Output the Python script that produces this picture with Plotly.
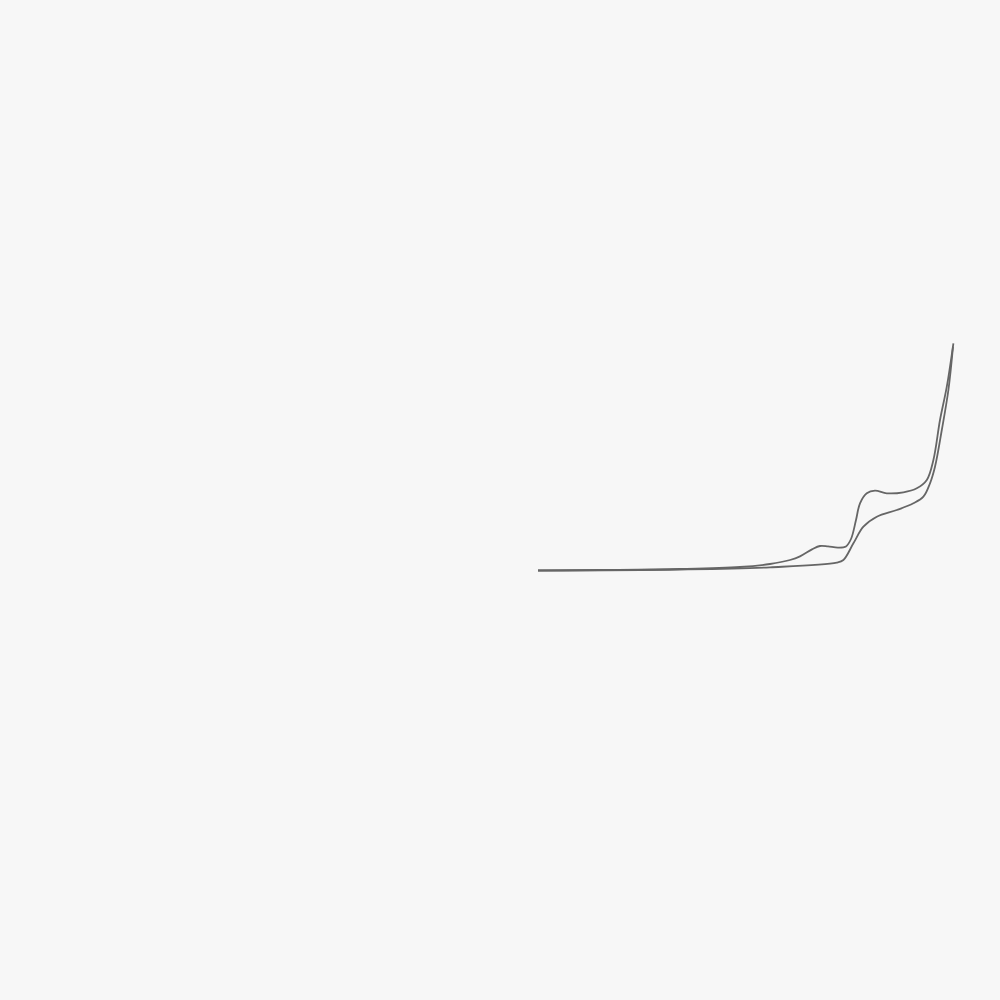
import plotly.graph_objects as go

# Potential (V) and current (uA)
potential_a = [0.000, 0.310, 0.710, 1.010, 1.160, 1.260, 1.310, 1.370, 1.410, 1.450, 1.500, 1.540,
               1.565, 1.590, 1.610, 1.644, 1.685, 1.744, 1.827, 1.894, 1.944, 1.977, 2.010, 2.044, 2.077]
current_a = [-0.25, 0.0, 0.5, 1.5, 3.0, 5.0, 6.8, 10.3, 12.0, 11.8, 11.2, 11.8,
             15.5, 25.0, 33.35, 38.35, 39.65, 38.35, 38.85, 40.85, 45.0, 55.0, 75.0, 91.65, 113.35]

potential_b = [0.000, 0.710, 1.160, 1.494, 1.527, 1.577, 1.627, 1.694, 1.794, 1.877, 1.927,
               1.960, 1.985, 2.019, 2.052, 2.075]
current_b = [-0.25, 0.25, 1.35, 3.65, 5.0, 13.35, 21.65, 26.65, 30.0, 33.35, 36.65,
             43.35, 51.65, 70.0, 90.0, 111.65]

fig = go.Figure()
for xs, ys in [(potential_a, current_a), (potential_b, current_b)]:
    fig.add_trace(go.Scatter(x=xs, y=ys, mode="lines",
                             line=dict(color="#666666", width=1.8, shape="spline", smoothing=1.0),
                             hoverinfo="skip"))

fig.update_layout(
    width=1000, height=1000,
    margin=dict(l=0, r=0, t=0, b=0),
    paper_bgcolor="#f7f7f7", plot_bgcolor="#f7f7f7",
    showlegend=False,
    xaxis=dict(range=[-2.69, 2.31], visible=False),
    yaxis=dict(range=[-215, 285], visible=False),
)
fig.write_html("out.html")
